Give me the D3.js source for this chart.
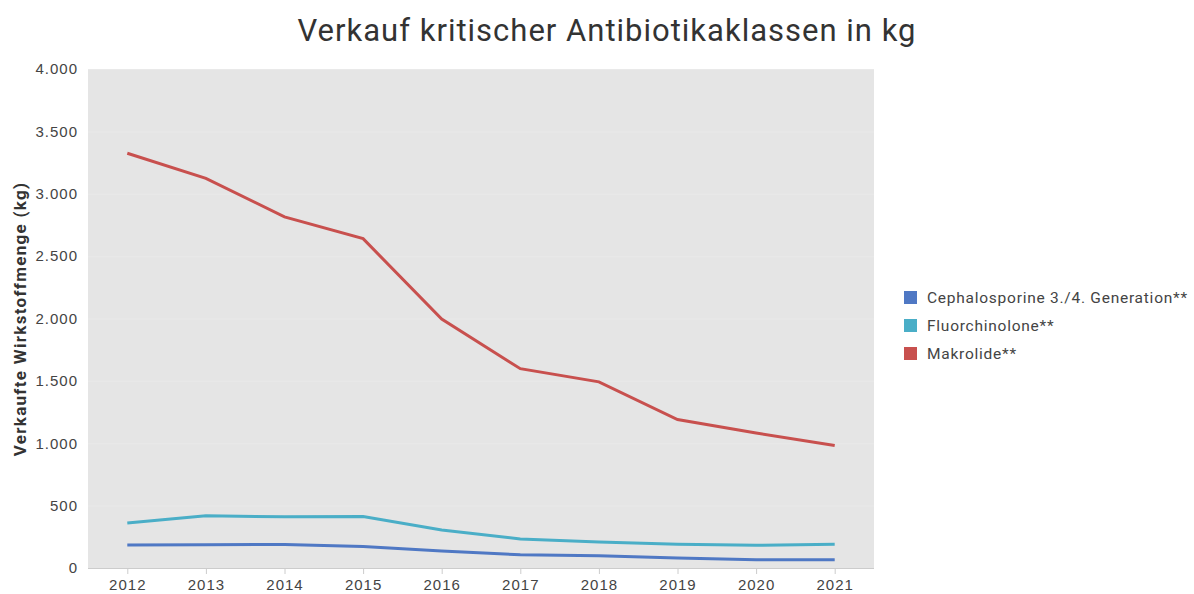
<!DOCTYPE html>
<html>
<head>
<meta charset="utf-8">
<script src="https://cdn.jsdelivr.net/npm/d3@7"></script>
<style>
  body { margin: 0; background: #fff; font-family: Roboto, "Liberation Sans", Arial, sans-serif; }
  .axis path { display: none; }
  .axis text { fill: #444; font-size: 15px; letter-spacing: 1px; }
</style>
</head>
<body>
<div id="chart"></div>
<script>
// Data
var years = [2012, 2013, 2014, 2015, 2016, 2017, 2018, 2019, 2020, 2021];
var seriesNames = ["Cephalosporine 3./4. Generation**", "Fluorchinolone**", "Makrolide**"];
var cephalosporine = [185, 187, 188, 172, 137, 106, 98, 80, 66, 66];
var fluorchinolone = [361, 418, 410, 413, 305, 233, 209, 190, 182, 190];
var makrolide = [3325, 3124, 2815, 2640, 1995, 1598, 1492, 1190, 1082, 982];
var yTicks = [0, 500, 1000, 1500, 2000, 2500, 3000, 3500, 4000];
var colors = ["#4f78c4", "#4aaec7", "#c8504e"];

var series = [cephalosporine, fluorchinolone, makrolide].map((vals, i) => ({
  name: seriesNames[i],
  color: colors[i],
  values: years.map((y, j) => ({ year: y, value: vals[j] })),
}));

var width = 1194, height = 594;
var margins = { top: 69, right: 320, bottom: 26, left: 88 };
var chartWidth = width - margins.left - margins.right;
var chartHeight = height - margins.top - margins.bottom;

var svg = d3.select("#chart").append("svg").attr("width", width).attr("height", height);

// Title
svg.append("text")
  .attr("x", 607).attr("y", 41)
  .attr("text-anchor", "middle")
  .style("font-size", "31px")
  .style("letter-spacing", "1px")
  .style("fill", "#333")
  .text("Verkauf kritischer Antibiotikaklassen in kg");

var chartElement = svg.append("g").attr("transform", `translate(${margins.left},${margins.top})`);

var xScale = d3.scalePoint().domain(years).range([0, chartWidth]).padding(0.5);
var yScale = d3.scaleLinear().domain([0, 4000]).range([chartHeight, 0]);

chartElement.append("rect")
  .attr("width", chartWidth).attr("height", chartHeight)
  .style("fill", "#e5e5e5");

// Grid
chartElement.append("g")
  .selectAll("line")
  .data(yTicks.slice(1))
  .enter().append("line")
  .attr("x1", 0).attr("x2", chartWidth)
  .attr("y1", (d) => yScale(d) + 0.5).attr("y2", (d) => yScale(d) + 0.5)
  .style("stroke", "#e9e9e9");

// Axes
var fmt = (d) => d3.format(",")(d).replace(/,/g, ".");
chartElement.append("g")
  .attr("class", "y axis")
  .call(d3.axisLeft(yScale).tickValues(yTicks).tickSize(0).tickPadding(10).tickFormat(fmt));

chartElement.append("line")
  .attr("x1", 0).attr("x2", chartWidth)
  .attr("y1", chartHeight + 0.5).attr("y2", chartHeight + 0.5)
  .style("stroke", "#ccc");

var xAxis = chartElement.append("g")
  .attr("class", "x axis")
  .attr("transform", `translate(0,${chartHeight})`)
  .call(d3.axisBottom(xScale).tickSize(6).tickPadding(5));
xAxis.selectAll(".tick line").style("stroke", "#ccc");

// Axis label
svg.append("text")
  .attr("transform", "translate(26,319) rotate(-90)")
  .attr("text-anchor", "middle")
  .style("font-size", "17px")
  .style("letter-spacing", "1.3px")
  .style("font-weight", "bold")
  .style("fill", "#333")
  .text("Verkaufte Wirkstoffmenge (kg)");

// Lines
var line = d3.line().x((d) => xScale(d.year)).y((d) => yScale(d.value));
chartElement.selectAll(".series")
  .data(series)
  .enter().append("path")
  .attr("d", (d) => line(d.values))
  .style("fill", "none")
  .style("stroke", (d) => d.color)
  .style("stroke-width", 3);

// Legend
var legend = svg.append("g").attr("transform", "translate(904,291)")
  .selectAll("g")
  .data(series)
  .enter().append("g")
  .attr("transform", (d, i) => `translate(0,${i * 28})`);
legend.append("rect").attr("width", 13).attr("height", 13).style("fill", (d) => d.color);
legend.append("text")
  .attr("x", 23).attr("y", 12)
  .style("font-size", "15.5px")
  .style("letter-spacing", "0.75px")
  .style("fill", "#444")
  .text((d) => d.name);
</script>
</body>
</html>
